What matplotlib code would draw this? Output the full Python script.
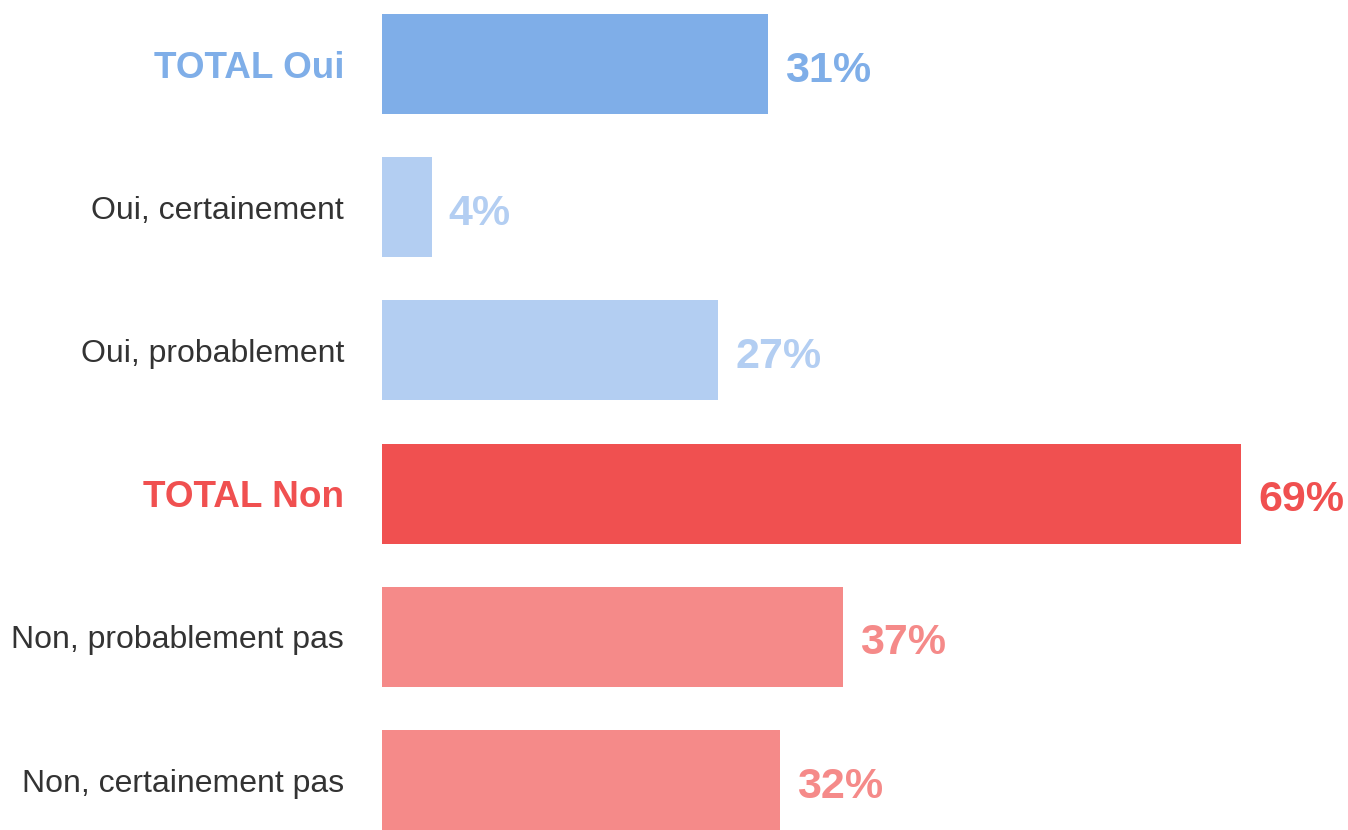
import matplotlib
matplotlib.use("Agg")
import matplotlib.pyplot as plt
from matplotlib.transforms import offset_copy

categories = ["TOTAL Oui", "Oui, certainement", "Oui, probablement",
              "TOTAL Non", "Non, probablement pas", "Non, certainement pas"]
values = [31, 4, 27, 69, 37, 32]
value_labels = ["31%", "4%", "27%", "69%", "37%", "32%"]
is_total = [True, False, False, True, False, False]
bar_colors = ["#7FAEE8", "#B3CEF2", "#B3CEF2", "#F05050", "#F58A89", "#F58A89"]
label_colors = ["#7FAEE8", "#333333", "#333333", "#F05050", "#333333", "#333333"]
value_colors = ["#7FAEE8", "#B3CEF2", "#B3CEF2", "#F05050", "#F58A89", "#F58A89"]

plt.rcParams['font.family'] = ['Liberation Sans', 'DejaVu Sans']

W, H = 1348, 830
fig = plt.figure(figsize=(W / 100, H / 100), dpi=100)
left_px = 382
ax = fig.add_axes([left_px / W, 0, 1 - left_px / W, 1])
px_per_unit = 12.45
spacing = 143.2
ax.set_xlim(0, (W - left_px) / px_per_unit)
top = -64 / spacing
ax.set_ylim(top + H / spacing, top)
ax.axis("off")

ypos = list(range(len(categories)))
ax.barh(ypos, values, height=100 / spacing, color=bar_colors)

lab_tr = offset_copy(ax.transData, fig=fig, x=-38, y=0, units="dots")
val_tr = offset_copy(ax.transData, fig=fig, x=17, y=-2, units="dots")
for y, cat, v, vl, tot, lc, vc in zip(ypos, categories, values, value_labels,
                                       is_total, label_colors, value_colors):
    ax.text(0, y, cat, transform=lab_tr, ha="right", va="center_baseline",
            fontsize=26.6 if tot else 23, fontweight="bold" if tot else "normal",
            color=lc, clip_on=False)
    ax.text(v, y, vl, transform=val_tr, ha="left", va="center_baseline",
            fontsize=31, fontweight="bold", color=vc, clip_on=False)

fig.savefig("out.png", dpi=100)
